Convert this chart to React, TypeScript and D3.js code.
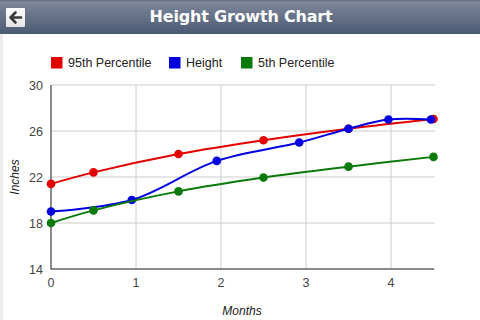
import React from "react";
import * as d3 from "d3";

const months95 = [0, 0.5, 1.5, 2.5, 3.5, 4.5];
const values95 = [21.4, 22.4, 24.0, 25.2, 26.2, 27.05];
const monthsHeight = [0, 0.95, 1.95, 2.92, 3.5, 3.97, 4.47];
const valuesHeight = [19.0, 20.0, 23.4, 25.0, 26.2, 27.0, 27.0];
const months5 = [0, 0.5, 1.5, 2.5, 3.5, 4.5];
const values5 = [18.0, 19.1, 20.75, 21.95, 22.9, 23.75];
const xTicks = [0, 1, 2, 3, 4];
const yTicks = [14, 18, 22, 26, 30];
const seriesNames = ["95th Percentile", "Height", "5th Percentile"];
const seriesColors = ["#e50000", "#0000e0", "#0a7a0a"];
const title = "Height Growth Chart";

export default function App() {
  const W = 480, H = 320;
  const x = d3.scaleLinear().domain([0, 4.5]).range([51, 433.5]);
  const y = d3.scaleLinear().domain([14, 30]).range([269, 85]);
  const series = [
    { xs: months95, ys: values95 },
    { xs: monthsHeight, ys: valuesHeight },
    { xs: months5, ys: values5 },
  ];
  const line = d3
    .line<[number, number]>()
    .x((d) => x(d[0]))
    .y((d) => y(d[1]))
    .curve(d3.curveCatmullRom.alpha(0.5));
  const legendX = [51, 169, 241];
  const font = "Arial, 'Liberation Sans', sans-serif";
  return (
    <svg
      width={W}
      height={H}
      style={{ position: "absolute", left: 0, top: 0, background: "#fff" }}
      fontFamily={font}
    >
      <defs>
        <linearGradient id="hdr" x1="0" y1="0" x2="0" y2="1">
          <stop offset="0" stopColor="#8a92a6" />
          <stop offset="0.12" stopColor="#7a8398" />
          <stop offset="1" stopColor="#4a5a72" />
        </linearGradient>
        <linearGradient id="btn" x1="0" y1="0" x2="0" y2="1">
          <stop offset="0" stopColor="#ffffff" />
          <stop offset="1" stopColor="#e4e4e4" />
        </linearGradient>
      </defs>
      <rect x={0} y={0} width={W} height={34} fill="url(#hdr)" />
      <rect x={0} y={0} width={W} height={1.5} fill="#6a7186" />
      <rect x={0} y={34} width={3} height={H - 34} fill="#ececec" />
      <rect x={6} y={8} width={19} height={19} fill="url(#btn)" rx={1} />
      <path
        d="M10.5,17.5 L15.5,12.5 M10.5,17.5 L15.5,22.5 M10.5,17.5 L21,17.5"
        stroke="#3a3a3a"
        strokeWidth={2.6}
        fill="none"
        strokeLinecap="round"
        strokeLinejoin="round"
      />
      <text
        x={241}
        y={22}
        textAnchor="middle"
        fill="#fff"
        fontWeight="bold"
        fontSize={16}
        fontFamily="'DejaVu Sans', Verdana, sans-serif"
        letterSpacing={-0.2}
      >
        {title}
      </text>

      {/* legend */}
      {seriesNames.map((n, i) => (
        <g key={n}>
          <rect x={legendX[i]} y={57} width={11.5} height={11.5} fill={seriesColors[i]} />
          <text x={legendX[i] + 17} y={67} fontSize={12.5} fill="#222">
            {n}
          </text>
        </g>
      ))}

      {/* grid */}
      {yTicks.map((t) => (
        <line key={"gy" + t} x1={51} x2={435} y1={y(t)} y2={y(t)} stroke="#cccccc" strokeWidth={1} />
      ))}
      {xTicks.map((t) => (
        <line key={"gx" + t} x1={x(t)} x2={x(t)} y1={85} y2={269} stroke="#cccccc" strokeWidth={1} />
      ))}
      <line x1={51} x2={51} y1={85} y2={269.5} stroke="#333" strokeWidth={1} />
      <line x1={51} x2={434} y1={269} y2={269} stroke="#333" strokeWidth={1} />

      {yTicks.map((t) => (
        <text key={"ty" + t} x={43} y={y(t) + 4.5} textAnchor="end" fontSize={12.5} fill="#444">
          {t}
        </text>
      ))}
      {xTicks.map((t) => (
        <text key={"tx" + t} x={x(t)} y={287} textAnchor="middle" fontSize={12.5} fill="#444">
          {t}
        </text>
      ))}
      <text
        transform={`translate(19,${177}) rotate(-90)`}
        textAnchor="middle"
        fontSize={12}
        fontStyle="italic"
        fill="#222"
      >
        Inches
      </text>
      <text x={242} y={315} textAnchor="middle" fontSize={12} fontStyle="italic" fill="#222">
        Months
      </text>

      {series.map((s, i) => {
        const pts: [number, number][] = s.xs.map((v, j) => [v, s.ys[j]]);
        return (
          <g key={"s" + i}>
            <path d={line(pts) || ""} fill="none" stroke={seriesColors[i]} strokeWidth={2} />
            {pts.map((p, j) => (
              <circle key={j} cx={x(p[0])} cy={y(p[1])} r={4.3} fill={seriesColors[i]} />
            ))}
          </g>
        );
      })}
    </svg>
  );
}
